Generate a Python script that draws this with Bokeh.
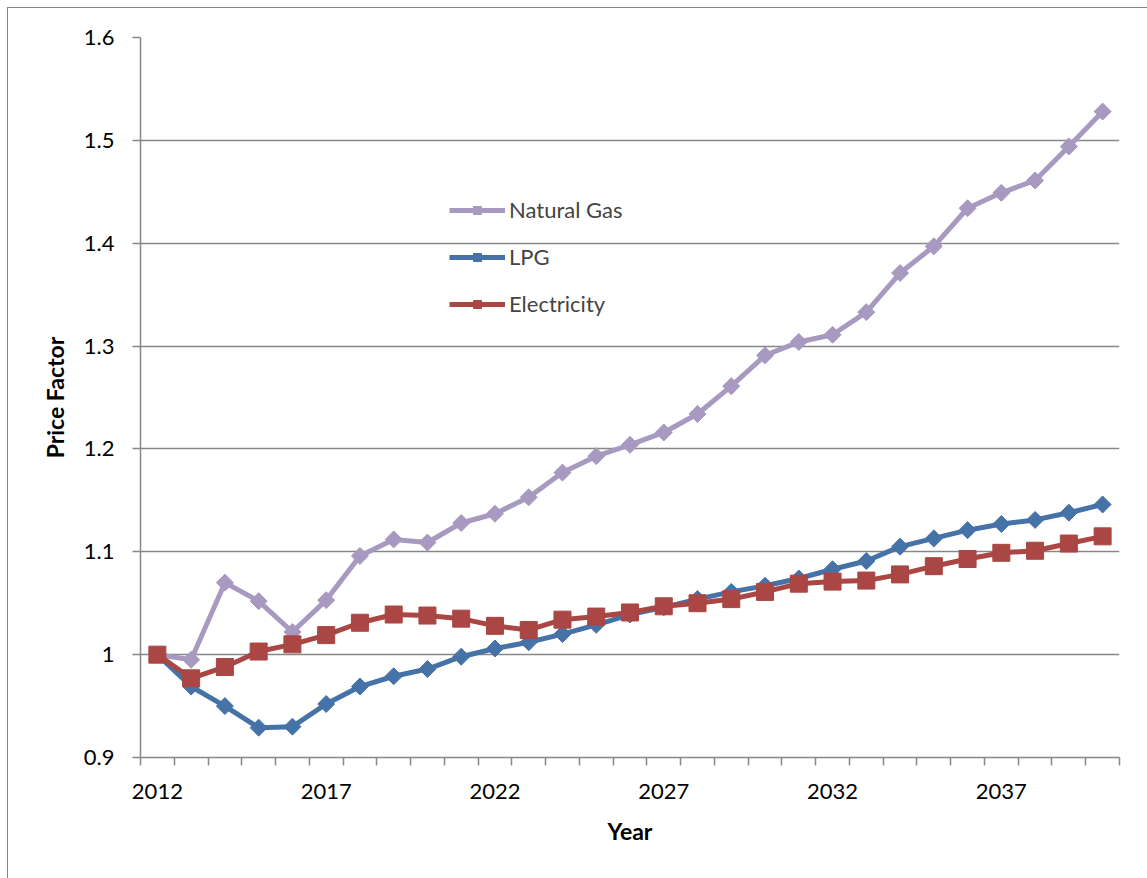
from bokeh.plotting import figure
from bokeh.models import (FixedTicker, CustomJSTickFormatter, Legend, LegendItem,
                          Range1d, InlineStyleSheet)
from bokeh.embed import file_html
from bokeh.resources import INLINE

years = [2012, 2013, 2014, 2015, 2016, 2017, 2018, 2019, 2020, 2021, 2022, 2023, 2024,
         2025, 2026, 2027, 2028, 2029, 2030, 2031, 2032, 2033, 2034, 2035, 2036, 2037,
         2038, 2039, 2040]
natural_gas = [1.000, 0.995, 1.070, 1.052, 1.022, 1.053, 1.096, 1.112, 1.109, 1.128,
               1.137, 1.153, 1.177, 1.193, 1.204, 1.216, 1.234, 1.261, 1.291, 1.304,
               1.311, 1.333, 1.371, 1.397, 1.434, 1.449, 1.461, 1.494, 1.528]
lpg = [1.000, 0.969, 0.950, 0.929, 0.930, 0.952, 0.969, 0.979, 0.986, 0.998,
       1.006, 1.012, 1.020, 1.029, 1.039, 1.046, 1.054, 1.061, 1.067, 1.074,
       1.083, 1.091, 1.105, 1.113, 1.121, 1.127, 1.131, 1.138, 1.146]
electricity = [1.000, 0.977, 0.988, 1.003, 1.010, 1.019, 1.031, 1.039, 1.038, 1.035,
               1.028, 1.024, 1.034, 1.037, 1.041, 1.047, 1.050, 1.054, 1.061, 1.069,
               1.071, 1.072, 1.078, 1.086, 1.093, 1.099, 1.101, 1.108, 1.115]
y_ticks = [0.9, 1.0, 1.1, 1.2, 1.3, 1.4, 1.5, 1.6]
x_label_years = [2012, 2017, 2022, 2027, 2032, 2037]

FONT = "Lato"
GRAY = "#878787"
C_NG = "#A799C0"
C_LPG = "#4572A7"
C_EL = "#AA4643"

p = figure(width=1147, height=878, output_backend="svg", toolbar_location=None,
           x_range=Range1d(years[0] - 0.5, years[-1] + 0.5),
           y_range=Range1d(y_ticks[0], y_ticks[-1]),
           min_border_left=140, min_border_right=28, min_border_top=37,
           min_border_bottom=121)
p.outline_line_color = None
p.background_fill_color = "white"
p.border_fill_color = "white"

# outer chart-area border: only its top and left edges fall inside the picture
p.stylesheets = [InlineStyleSheet(css=(
    ":host { position: relative; }"
    ":host::after { content: ''; position: absolute; left: 7px; top: 7px; right: 0;"
    " bottom: 0; border-left: 1.5px solid #878787; border-top: 1.5px solid #878787;"
    " pointer-events: none; z-index: 10; }"))]

# y axis
p.yaxis.ticker = FixedTicker(ticks=y_ticks)
p.yaxis.formatter = CustomJSTickFormatter(code="return (Math.round(tick*10)/10).toString();")
p.yaxis.axis_label = "Price Factor"
p.yaxis.major_tick_out = 8
p.yaxis.major_tick_in = 0
p.yaxis.major_label_standoff = 18
p.yaxis.axis_label_standoff = 12

# x axis: tick marks between categories, labels every fifth year
boundaries = [y - 0.5 for y in years] + [years[-1] + 0.5]
p.xaxis.ticker = FixedTicker(ticks=x_label_years, minor_ticks=boundaries)
p.xaxis.axis_label = "Year"
p.xaxis.major_tick_out = 0
p.xaxis.major_tick_in = 0
p.xaxis.minor_tick_out = 8
p.xaxis.minor_tick_in = 0
p.xaxis.major_label_standoff = 18
p.xaxis.axis_label_standoff = 15

for ax in (p.xaxis[0], p.yaxis[0]):
    ax.axis_line_color = GRAY
    ax.axis_line_width = 1.5
    ax.major_tick_line_color = GRAY
    ax.major_tick_line_width = 1.5
    ax.minor_tick_line_color = GRAY if ax is p.xaxis[0] else None
    ax.minor_tick_line_width = 1.5
    ax.major_label_text_font = FONT
    ax.major_label_text_font_size = "22px"
    ax.major_label_text_color = "black"
    ax.axis_label_text_font = FONT
    ax.axis_label_text_font_size = "23px"
    ax.axis_label_text_font_style = "bold"
    ax.axis_label_text_color = "black"

p.xgrid.visible = False
p.ygrid.ticker = FixedTicker(ticks=y_ticks)
p.ygrid.grid_line_color = GRAY
p.ygrid.grid_line_width = 1.5

ng_l = p.line(years, natural_gas, line_color=C_NG, line_width=5)
ng_m = p.scatter(years, natural_gas, marker="square", size=12, angle=0.785398,
                 fill_color=C_NG, line_color=C_NG)
lpg_l = p.line(years, lpg, line_color=C_LPG, line_width=5)
lpg_m = p.scatter(years, lpg, marker="square", size=12, angle=0.785398,
                  fill_color=C_LPG, line_color=C_LPG)
el_l = p.line(years, electricity, line_color=C_EL, line_width=5)
el_m = p.scatter(years, electricity, marker="square", size=17,
                 fill_color=C_EL, line_color=C_EL)

legend = Legend(items=[LegendItem(label="Natural Gas", renderers=[ng_l, ng_m]),
                       LegendItem(label="LPG", renderers=[lpg_l, lpg_m]),
                       LegendItem(label="Electricity", renderers=[el_l, el_m])],
                location=(309, 440), border_line_color=None, background_fill_alpha=0,
                label_text_font=FONT, label_text_font_size="22px",
                glyph_width=56, glyph_height=20, label_height=20, spacing=20,
                padding=0, margin=0, label_standoff=4)
p.add_layout(legend)

open("out.html", "w").write(file_html(p, INLINE))
